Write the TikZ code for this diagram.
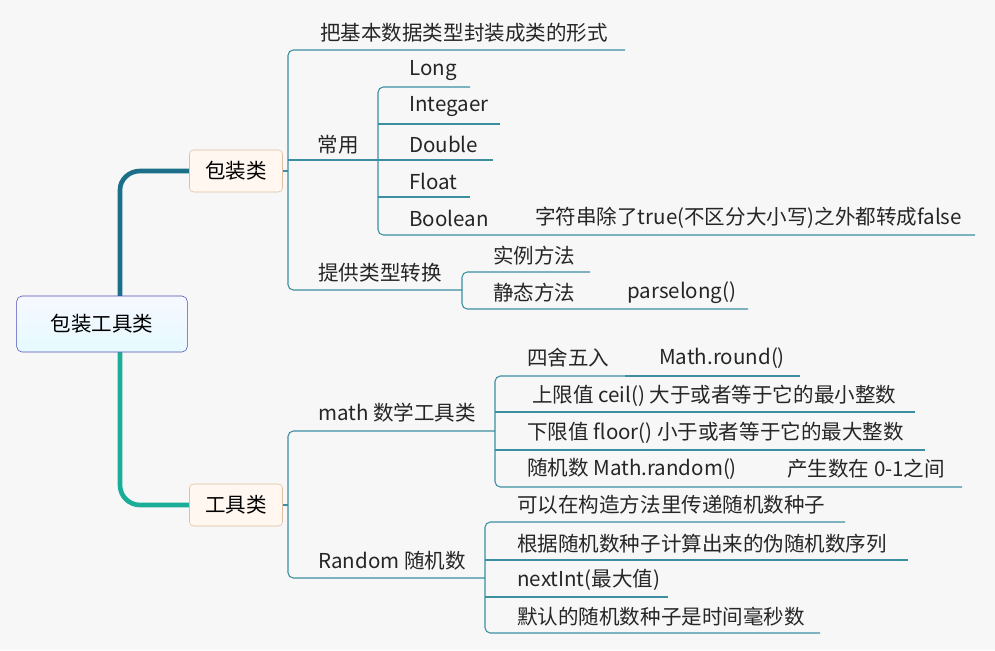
\documentclass[tikz,border=0pt]{standalone}
\usepackage{fontspec}
\setmainfont{Noto Sans CJK SC}
\definecolor{topc}{HTML}{1B6F88}
\definecolor{botc}{HTML}{1AAE98}
\definecolor{thin}{HTML}{3B8FA0}
\begin{document}
\begin{tikzpicture}[x=0.75pt,y=-0.75pt,
  t/.style={inner sep=0pt,font=\fontsize{15.4}{17}\selectfont,text=black!85},
  ln/.style={draw=thin,line width=0.8pt,rounded corners=4pt},
  topic/.style={draw=brown!50,fill=orange!6,rounded corners=3pt,minimum width=69.75pt,minimum height=31.5pt,font=\fontsize{15.4}{17}\selectfont}]
\fill[black!3] (0,0) rectangle (995,650);
\useasboundingbox (0,0) rectangle (995,650);
% main branches
\draw[line width=3.5pt,draw=topc] (120,296) -- (120,190) to[out=90,in=180] (140,171) -- (190,171);
\draw[line width=3.5pt,draw=botc] (120,352) -- (120,485) to[out=-90,in=180] (140,505) -- (190,505);
\node[draw=blue!40!gray,rounded corners=4pt,top color=blue!3,bottom color=blue!18!cyan!10,minimum width=128pt,minimum height=42pt,font=\fontsize{15.4}{17}\selectfont] (root) at (102,324) {包装工具类};
\node[topic] (bz) at (236,171) {包装类};
\node[topic] (gj) at (236,505) {工具类};
% 包装类 subtree
\draw[ln] (bz.east) -- (288,171);
\draw[ln] (625,50) -- (288,50) -- (288,290) -- (462,290);
\draw[ln] (288,160) -- (378,160);
\draw[ln] (470,87) -- (378,87) -- (378,235) -- (975,235);
\draw[ln] (378,124) -- (500,124);
\draw[ln] (378,160) -- (493,160);
\draw[ln] (378,197) -- (470,197);
\draw[ln] (590,272) -- (462,272) -- (462,309) -- (748,309);
\node[t] (a1) at (464,33) {把基本数据类型封装成类的形式};
\node[t] (a2) at (338,145) {常用};
\node[t,anchor=west] (l1) at (409,71) {Long};
\node[t,anchor=west] (l2) at (409,107) {Integaer};
\node[t,anchor=west] (l3) at (409,144) {Double};
\node[t,anchor=west] (l4) at (409,181) {Float};
\node[t,anchor=west] (l5) at (409,218) {Boolean};
\node[t,anchor=west] (l6) at (535,218) {字符串除了true(不区分大小写)之外都转成false};
\node[t] (a3) at (380,273) {提供类型转换};
\node[t,anchor=west] (b1) at (493,256) {实例方法};
\node[t,anchor=west] (b2) at (493,293) {静态方法};
\node[t,anchor=west] (b3) at (627,293) {parselong()};
% 工具类 subtree
\draw[ln] (gj.east) -- (288,505);
\draw[ln] (495,431) -- (288,431) -- (288,578) -- (485,578);
\draw[ln] (625,376) -- (495,376) -- (495,487) -- (962,487);
\draw[ln] (625,376) -- (800,376);
\draw[ln] (495,412) -- (915,412);
\draw[ln] (495,450) -- (925,450);
\draw[ln] (845,522) -- (485,522) -- (485,633) -- (820,633);
\draw[ln] (485,560) -- (908,560);
\draw[ln] (485,597) -- (668,597);
\node[t,anchor=west] (m) at (318,413) {math 数学工具类};
\node[t,anchor=west] (c1) at (527,358) {四舍五入};
\node[t,anchor=west] (c1b) at (659,358) {Math.round()};
\node[t,anchor=west] (c2) at (532,396) {上限值 ceil() 大于或者等于它的最小整数};
\node[t,anchor=west] (c3) at (527,433) {下限值 floor() 小于或者等于它的最大整数};
\node[t,anchor=west] (c4) at (527,469) {随机数 Math.random()};
\node[t,anchor=west] (c4b) at (787,469) {产生数在 0-1之间};
\node[t,anchor=west] (r) at (318,561) {Random 随机数};
\node[t,anchor=west] (d1) at (517,505) {可以在构造方法里传递随机数种子};
\node[t,anchor=west] (d2) at (517,544) {根据随机数种子计算出来的伪随机数序列};
\node[t,anchor=west] (d3) at (517,580) {nextInt(最大值)};
\node[t,anchor=west] (d4) at (517,617) {默认的随机数种子是时间毫秒数};
\end{tikzpicture}
\end{document}
